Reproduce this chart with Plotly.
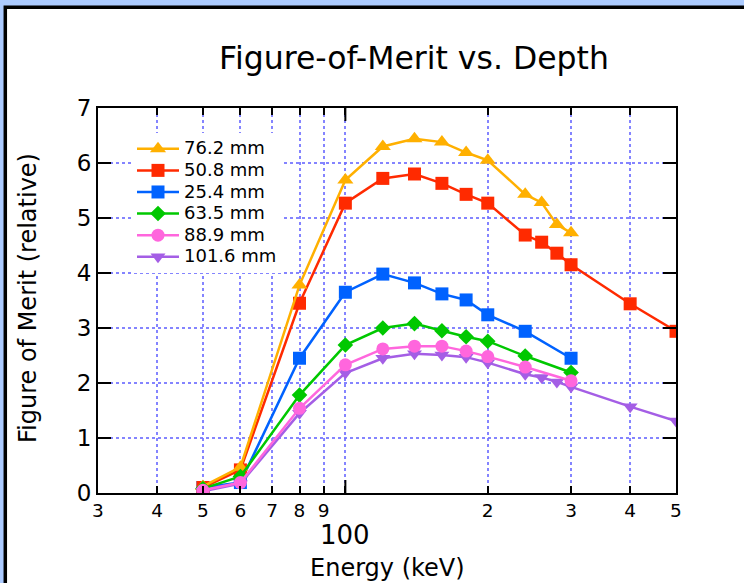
import plotly.graph_objects as go

# ---- data ----
energy_full = [50, 60, 80, 100, 120, 140, 160, 180, 200, 240, 260, 280, 300, 400, 500]
energy_76 = [50, 60, 80, 100, 120, 140, 160, 180, 200, 240, 260, 280, 300]
energy_short = [50, 60, 80, 100, 120, 140, 160, 180, 200, 240, 300]

fom_76_2 = [0.12, 0.47, 3.78, 5.69, 6.30, 6.44, 6.38, 6.19, 6.05, 5.43, 5.28, 4.88, 4.73]
fom_50_8 = [0.10, 0.42, 3.45, 5.27, 5.72, 5.80, 5.63, 5.43, 5.27, 4.69, 4.56, 4.36, 4.15, 3.44, 2.94]
fom_25_4 = [0.10, 0.19, 2.45, 3.65, 3.98, 3.82, 3.62, 3.51, 3.24, 2.94, 2.45]
fom_63_5 = [0.08, 0.30, 1.78, 2.69, 3.00, 3.08, 2.95, 2.84, 2.76, 2.49, 2.19]
fom_88_9 = [0.05, 0.19, 1.54, 2.33, 2.62, 2.67, 2.67, 2.58, 2.48, 2.29, 2.04]
fom_101_6 = [0.03, 0.17, 1.45, 2.18, 2.45, 2.53, 2.51, 2.47, 2.37, 2.16, 2.10, 2.02, 1.93, 1.57, 1.31]

x_tick_vals = [30, 40, 50, 60, 70, 80, 90, 100, 200, 300, 400, 500]
x_tick_text = ["3", "4", "5", "6", "7", "8", "9", "", "2", "3", "4", "5"]
y_tick_vals = [0, 1, 2, 3, 4, 5, 6, 7]

FONT = "DejaVu Sans"

# (name, x, y, color, symbol, size, legend rank) in drawing order
series = [
    ("25.4 mm", energy_short, fom_25_4, "#0062FF", "square", 13, 3),
    ("50.8 mm", energy_full, fom_50_8, "#FF2A00", "square", 13, 2),
    ("76.2 mm", energy_76, fom_76_2, "#FFB000", "triangle-up", 14, 1),
    ("63.5 mm", energy_short, fom_63_5, "#00C800", "diamond", 12, 4),
    ("101.6 mm", energy_full, fom_101_6, "#A45EE5", "triangle-down", 13, 6),
    ("88.9 mm", energy_short, fom_88_9, "#FF66DD", "circle", 13, 5),
]

fig = go.Figure()
for name, xs, ys, col, sym, sz, rank in series:
    fig.add_trace(go.Scatter(
        x=xs, y=ys, mode="lines+markers",
        name='<span style="font-size:18px">' + name + '</span>',
        legendrank=rank,
        line=dict(color=col, width=2.5),
        marker=dict(color=col, symbol=sym, size=sz, line=dict(width=0)),
    ))

L, R, T, B = 98, 68, 108, 90
W, H = 744, 583
pw = W - L - R
ph = H - T - B

def px_x(p):
    return (p - L) / pw

def px_y(p):
    return (H - B - p) / ph

grid_col = "rgba(110,110,255,0.85)"

fig.update_layout(
    width=W, height=H,
    margin=dict(l=L, r=R, t=T, b=B, autoexpand=False),
    paper_bgcolor="#ACCBFF",
    plot_bgcolor="white",
    font=dict(family=FONT, color="black"),
    title=dict(text="Figure-of-Merit vs. Depth", font=dict(family=FONT, size=31.5, color="black"),
               x=px_x(414), xref="paper", xanchor="center",
               y=1 - 58 / H, yref="container", yanchor="middle"),
    showlegend=True,
    legend=dict(x=px_x(132), y=px_y(133), xanchor="left", yanchor="top",
                bgcolor="white", borderwidth=0, font=dict(family=FONT, size=14.3, color="black"),
                itemwidth=42, traceorder="normal"),
    xaxis=dict(
        type="log", range=[1.4771, 2.69897], automargin=False,
        tickmode="array", tickvals=x_tick_vals, ticktext=x_tick_text,
        tickfont=dict(family=FONT, size=18.5, color="black"),
        ticks="inside", ticklen=7, tickwidth=1.5, tickcolor="black",
        showline=True, linecolor="black", linewidth=2, mirror="ticks",
        showgrid=True, gridcolor=grid_col, griddash="dot", gridwidth=1.5,
        zeroline=False,
    ),
    yaxis=dict(
        range=[0, 7], tickmode="array", tickvals=y_tick_vals, automargin=False,
        tickfont=dict(family=FONT, size=23, color="black"),
        ticks="inside", ticklen=13, tickwidth=2, tickcolor="black",
        showline=True, linecolor="black", linewidth=2, mirror="ticks",
        showgrid=True, gridcolor=grid_col, griddash="dot", gridwidth=1.5,
        zeroline=False,
    ),
    shapes=[
        dict(type="rect", xref="paper", yref="paper", layer="below",
             x0=px_x(5.3), x1=px_x(760), y0=px_y(7.2), y1=px_y(600),
             fillcolor="white", line=dict(color="black", width=3.5)),
        # longer major tick at 100 (bottom and top)
        dict(type="line", xref="x", yref="paper", x0=100, x1=100, y0=0, y1=13 / ph,
             line=dict(color="black", width=2)),
        dict(type="line", xref="x", yref="paper", x0=100, x1=100, y0=1, y1=1 - 13 / ph,
             line=dict(color="black", width=2)),
    ],
    annotations=[
        dict(text="100", x=2, xref="x", y=px_y(535), yref="paper", showarrow=False,
             xanchor="center", yanchor="middle", borderpad=0,
             font=dict(family=FONT, size=26, color="black")),
        dict(text="Energy (keV)", x=px_x(387), xref="paper", y=px_y(568), yref="paper",
             showarrow=False, xanchor="center", yanchor="middle",
             font=dict(family=FONT, size=24, color="black")),
        dict(text="Figure of Merit (relative)", x=px_x(28), xref="paper", y=px_y(298), yref="paper",
             showarrow=False, xanchor="center", yanchor="middle", textangle=-90,
             font=dict(family=FONT, size=24, color="black")),
    ],
)

fig.write_html("out.html")
